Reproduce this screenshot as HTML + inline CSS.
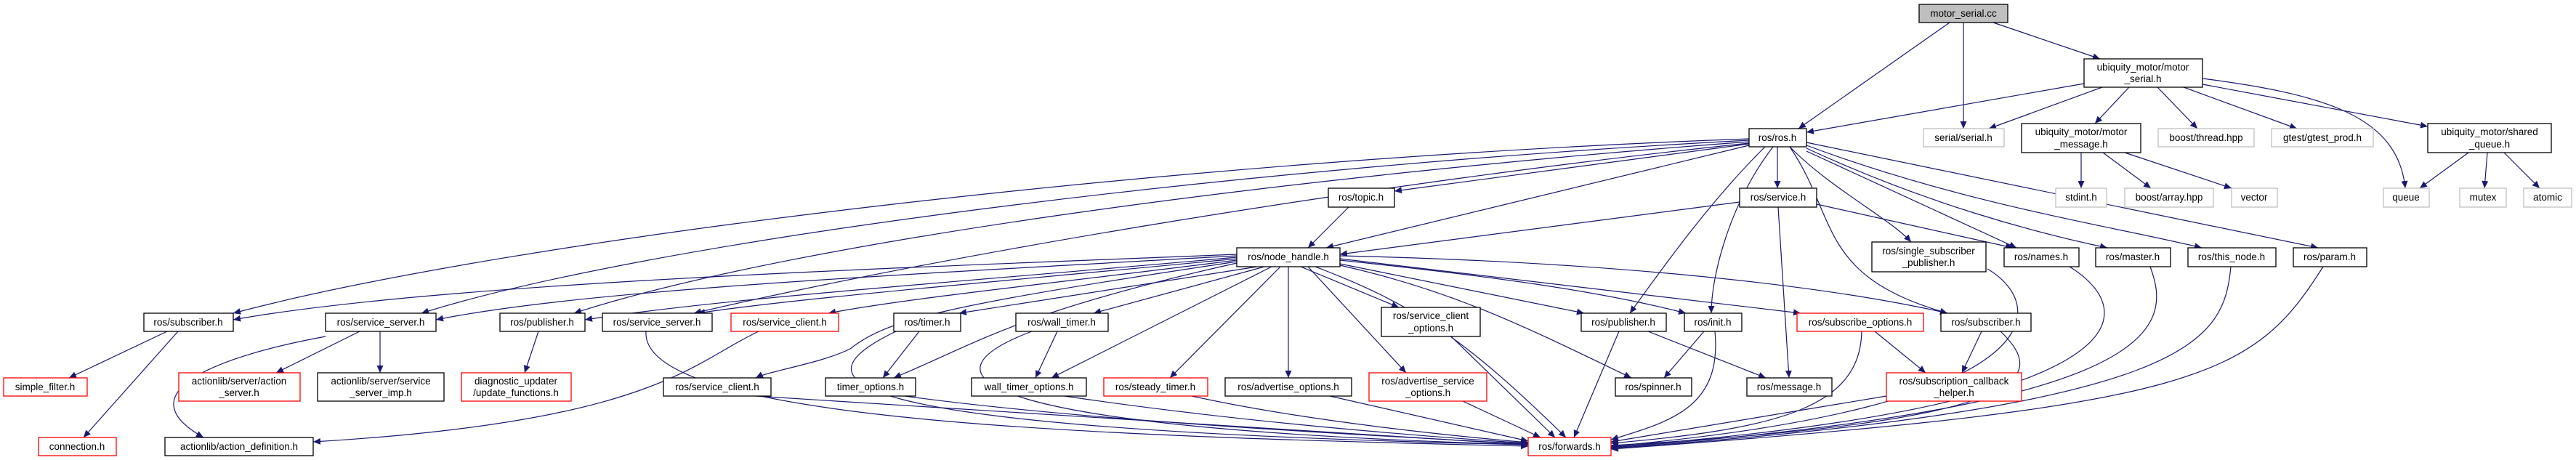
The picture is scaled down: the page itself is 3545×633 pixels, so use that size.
<!DOCTYPE html>
<html><head><meta charset="utf-8"><style>
html,body{margin:0;padding:0;background:#fff;}
svg{display:block;}
text{font-family:"Liberation Sans","DejaVu Sans",sans-serif;font-size:13.5px;fill:#000;text-anchor:middle;}
.n{fill:#fff;stroke:#000;stroke-width:1.3;}
.r{fill:#fff;stroke:#ff0000;stroke-width:1.3;}
.g{fill:#fff;stroke:#bfbfbf;stroke-width:1.3;}
.e{fill:none;stroke:#191970;stroke-width:1.2;marker-end:url(#a);}
</style></head><body>
<svg width="3545" height="633" viewBox="0 0 3545 633" xmlns="http://www.w3.org/2000/svg">
<defs><marker id="a" markerUnits="userSpaceOnUse" markerWidth="11" markerHeight="9" refX="10" refY="4.5" orient="auto"><path d="M0,0 L10,4.5 L0,9 z" fill="#191970"/></marker></defs>
<g>
<path class="e" d="M2683,31 L2475,177"/>
<path class="e" d="M2702,31 L2702,177"/>
<path class="e" d="M2743,31 L2890,81"/>
<path class="e" d="M2868,115 L2486,182"/>
<path class="e" d="M2893,120 L2737,177"/>
<path class="e" d="M2930,120 L2883,170"/>
<path class="e" d="M2969,120 L3024,177"/>
<path class="e" d="M3005,120 L3161,177"/>
<path class="e" d="M3031,116 L3341,174"/>
<path class="e" d="M3031,108 C3200,130 3300,160 3310,259"/>
<path class="e" d="M2864,210 L2864,259"/>
<path class="e" d="M2894,210 L2960,259"/>
<path class="e" d="M2924,210 L3071,259"/>
<path class="e" d="M3397,210 L3330,259"/>
<path class="e" d="M3423,210 L3419,259"/>
<path class="e" d="M3446,210 L3495,259"/>
<path class="e" d="M2407,198 L1919,263"/>
<path class="e" d="M2446,202 L2446,259"/>
<path class="e" d="M2407,200 L1825,341"/>
<path class="e" d="M2463,202 C2520,260 2600,300 2630,333"/>
<path class="e" d="M2486,208 L2775,341"/>
<path class="e" d="M2486,204 C2650,280 2800,320 2900,341"/>
<path class="e" d="M2486,200 C2700,280 2900,310 3030,341"/>
<path class="e" d="M2486,196 C2800,260 3000,300 3190,341"/>
<path class="e" d="M2407,191 C1600,220 700,330 321,431"/>
<path class="e" d="M2407,193 C1700,230 900,330 580,431"/>
<path class="e" d="M2407,195 C1800,240 1100,330 790,431"/>
<path class="e" d="M2407,197 C1900,250 1300,350 955,431"/>
<path class="e" d="M2429,202 C2350,280 2280,380 2243,431"/>
<path class="e" d="M2440,202 C2380,280 2355,380 2355,431"/>
<path class="e" d="M2463,202 C2530,300 2500,380 2680,431"/>
<path class="e" d="M2394,278 L1844,350"/>
<path class="e" d="M2447,285 L2462,520"/>
<path class="e" d="M2500,281 L2770,341"/>
<path class="e" d="M1856,285 L1800,341"/>
<path class="e" d="M1702,350 C1200,370 600,390 321,440"/>
<path class="e" d="M1702,352 C1200,380 800,400 600,440"/>
<path class="e" d="M1702,354 C1300,390 1000,410 805,440"/>
<path class="e" d="M1702,356 C1350,390 1100,410 960,431"/>
<path class="e" d="M1702,358 C1450,390 1250,410 1140,431"/>
<path class="e" d="M1730,367 L1320,431"/>
<path class="e" d="M1740,367 L1505,431"/>
<path class="e" d="M1702,360 C1300,420 1220,440 1170,480 C1130,500 1060,510 1040,520"/>
<path class="e" d="M1702,362 C1400,430 1350,470 1230,520"/>
<path class="e" d="M1750,367 L1447,520"/>
<path class="e" d="M1762,367 L1610,520"/>
<path class="e" d="M1773,367 L1773,520"/>
<path class="e" d="M1790,367 L1925,423"/>
<path class="e" d="M1800,367 L1935,513"/>
<path class="e" d="M1810,367 C1950,420 2020,470 2155,602"/>
<path class="e" d="M1844,363 L2180,431"/>
<path class="e" d="M1844,365 C2000,400 2100,450 2245,520"/>
<path class="e" d="M1844,358 C2050,380 2200,400 2320,431"/>
<path class="e" d="M1844,356 L2478,431"/>
<path class="e" d="M1844,352 C2200,360 2500,390 2680,431"/>
<path class="e" d="M230,456 L95,520"/>
<path class="e" d="M245,456 L115,602"/>
<path class="e" d="M495,456 L380,513"/>
<path class="e" d="M523,456 L523,513"/>
<path class="e" d="M448,463 C300,490 170,540 280,602"/>
<path class="e" d="M741,456 L722,513"/>
<path class="e" d="M889,456 C880,580 1500,600 2103,614"/>
<path class="e" d="M1044,456 C950,500 900,580 431,608"/>
<path class="e" d="M1265,456 L1215,520"/>
<path class="e" d="M1233,456 C1100,520 1100,590 2103,612"/>
<path class="e" d="M1455,456 L1425,520"/>
<path class="e" d="M1420,456 C1250,520 1350,590 2103,612"/>
<path class="e" d="M1040,545 C1500,575 1900,600 2103,612"/>
<path class="e" d="M1245,545 C1500,580 1900,600 2103,611"/>
<path class="e" d="M1465,545 C1700,580 1950,600 2103,610"/>
<path class="e" d="M1640,545 C1800,580 2000,600 2103,609"/>
<path class="e" d="M1830,545 L2103,607"/>
<path class="e" d="M1997,463 L2140,602"/>
<path class="e" d="M2013,552 L2120,602"/>
<path class="e" d="M2228,456 L2166,602"/>
<path class="e" d="M2268,456 L2430,520"/>
<path class="e" d="M2345,456 L2290,520"/>
<path class="e" d="M2360,456 C2370,560 2300,580 2217,605"/>
<path class="e" d="M2580,456 L2650,513"/>
<path class="e" d="M2562,456 C2560,560 2450,590 2217,610"/>
<path class="e" d="M2727,456 L2700,513"/>
<path class="e" d="M2753,456 C2820,520 2800,580 2217,613"/>
<path class="e" d="M2596,545 L2217,608"/>
<path class="e" d="M2735,370 C2820,420 2830,560 2217,614"/>
<path class="e" d="M2848,367 C2950,430 2950,560 2217,615"/>
<path class="e" d="M2959,367 C2990,450 2980,560 2217,616"/>
<path class="e" d="M3070,367 C3060,470 3020,560 2217,617"/>
<path class="e" d="M3197,367 C3100,520 3030,560 2217,618"/>
</g>
<g>
<rect x="2641" y="6" width="122" height="25" fill="#bfbfbf" stroke="#000" stroke-width="1.3"/><text x="2702" y="23">motor_serial.cc</text>
<rect class="n" x="2407" y="177" width="79" height="25"/><text x="2446" y="194">ros/ros.h</text>
<rect class="g" x="2647" y="177" width="111" height="25"/><text x="2702" y="194">serial/serial.h</text>
<rect class="n" x="2868" y="81" width="163" height="39"/><text x="2949" y="97">ubiquity_motor/motor</text><text x="2949" y="113">_serial.h</text>
<rect class="n" x="2782" y="170" width="164" height="40"/><text x="2864" y="186">ubiquity_motor/motor</text><text x="2864" y="203">_message.h</text>
<rect class="g" x="2970" y="177" width="132" height="25"/><text x="3036" y="194">boost/thread.hpp</text>
<rect class="g" x="3126" y="177" width="140" height="25"/><text x="3196" y="194">gtest/gtest_prod.h</text>
<rect class="n" x="3341" y="170" width="170" height="40"/><text x="3426" y="186">ubiquity_motor/shared</text><text x="3426" y="203">_queue.h</text>
<rect class="g" x="2829" y="259" width="70" height="26"/><text x="2864" y="276">stdint.h</text>
<rect class="g" x="2924" y="259" width="122" height="26"/><text x="2985" y="276">boost/array.hpp</text>
<rect class="g" x="3071" y="259" width="63" height="26"/><text x="3102" y="276">vector</text>
<rect class="g" x="3280" y="259" width="63" height="26"/><text x="3311" y="276">queue</text>
<rect class="g" x="3385" y="259" width="64" height="26"/><text x="3417" y="276">mutex</text>
<rect class="g" x="3473" y="259" width="66" height="26"/><text x="3506" y="276">atomic</text>
<rect class="n" x="1828" y="259" width="91" height="26"/><text x="1873" y="276">ros/topic.h</text>
<rect class="n" x="2394" y="259" width="106" height="26"/><text x="2447" y="276">ros/service.h</text>
<rect class="n" x="1702" y="341" width="142" height="26"/><text x="1773" y="358">ros/node_handle.h</text>
<rect class="n" x="2576" y="333" width="157" height="41"/><text x="2654" y="350">ros/single_subscriber</text><text x="2654" y="366">_publisher.h</text>
<rect class="n" x="2758" y="341" width="103" height="26"/><text x="2809" y="358">ros/names.h</text>
<rect class="n" x="2884" y="341" width="103" height="26"/><text x="2935" y="358">ros/master.h</text>
<rect class="n" x="3011" y="341" width="121" height="26"/><text x="3071" y="358">ros/this_node.h</text>
<rect class="n" x="3156" y="341" width="101" height="26"/><text x="3206" y="358">ros/param.h</text>
<rect class="n" x="198" y="431" width="123" height="25"/><text x="259" y="448">ros/subscriber.h</text>
<rect class="n" x="448" y="431" width="152" height="25"/><text x="524" y="448">ros/service_server.h</text>
<rect class="n" x="688" y="431" width="117" height="25"/><text x="746" y="448">ros/publisher.h</text>
<rect class="n" x="829" y="431" width="151" height="25"/><text x="904" y="448">ros/service_server.h</text>
<rect class="r" x="1006" y="431" width="148" height="25"/><text x="1080" y="448">ros/service_client.h</text>
<rect class="n" x="1230" y="431" width="92" height="25"/><text x="1276" y="448">ros/timer.h</text>
<rect class="n" x="1398" y="431" width="127" height="25"/><text x="1461" y="448">ros/wall_timer.h</text>
<rect class="n" x="1901" y="423" width="136" height="40"/><text x="1969" y="439">ros/service_client</text><text x="1969" y="456">_options.h</text>
<rect class="n" x="2176" y="431" width="117" height="25"/><text x="2234" y="448">ros/publisher.h</text>
<rect class="n" x="2318" y="431" width="79" height="25"/><text x="2357" y="448">ros/init.h</text>
<rect class="r" x="2473" y="431" width="174" height="25"/><text x="2560" y="448">ros/subscribe_options.h</text>
<rect class="n" x="2671" y="431" width="124" height="25"/><text x="2733" y="448">ros/subscriber.h</text>
<rect class="r" x="5" y="520" width="115" height="25"/><text x="62" y="537">simple_filter.h</text>
<rect class="r" x="246" y="513" width="167" height="39"/><text x="329" y="529">actionlib/server/action</text><text x="329" y="545">_server.h</text>
<rect class="n" x="437" y="513" width="174" height="39"/><text x="524" y="529">actionlib/server/service</text><text x="524" y="545">_server_imp.h</text>
<rect class="r" x="635" y="513" width="151" height="39"/><text x="710" y="529">diagnostic_updater</text><text x="710" y="545">/update_functions.h</text>
<rect class="n" x="913" y="520" width="148" height="25"/><text x="987" y="537">ros/service_client.h</text>
<rect class="n" x="1136" y="520" width="124" height="25"/><text x="1198" y="537">timer_options.h</text>
<rect class="n" x="1337" y="520" width="158" height="25"/><text x="1416" y="537">wall_timer_options.h</text>
<rect class="r" x="1519" y="520" width="143" height="25"/><text x="1590" y="537">ros/steady_timer.h</text>
<rect class="n" x="1686" y="520" width="174" height="25"/><text x="1773" y="537">ros/advertise_options.h</text>
<rect class="r" x="1884" y="513" width="162" height="39"/><text x="1965" y="529">ros/advertise_service</text><text x="1965" y="545">_options.h</text>
<rect class="n" x="2223" y="520" width="105" height="25"/><text x="2275" y="537">ros/spinner.h</text>
<rect class="n" x="2404" y="520" width="117" height="25"/><text x="2462" y="537">ros/message.h</text>
<rect class="r" x="2596" y="513" width="186" height="39"/><text x="2689" y="529">ros/subscription_callback</text><text x="2689" y="545">_helper.h</text>
<rect class="r" x="53" y="602" width="107" height="25"/><text x="106" y="619">connection.h</text>
<rect class="n" x="227" y="602" width="204" height="25"/><text x="329" y="619">actionlib/action_definition.h</text>
<rect class="r" x="2103" y="602" width="114" height="25"/><text x="2160" y="619">ros/forwards.h</text>
</g>
</svg>
</body></html>
